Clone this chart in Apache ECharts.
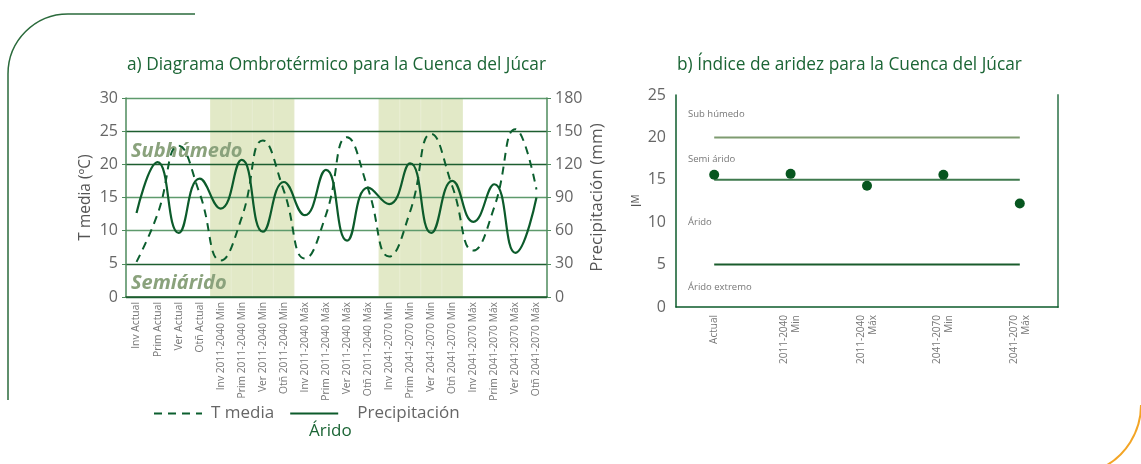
<!DOCTYPE html>
<html>
<head>
<meta charset="utf-8">
<script src="https://cdn.jsdelivr.net/npm/echarts@6/dist/echarts.min.js"></script>
<style>
html, body { margin: 0; padding: 0; background: #fff; }
#main { width: 1141px; height: 464px; }
</style>
</head>
<body>
<div id="main"></div>
<script>
// categorías del diagrama ombrotérmico
const estaciones = [
    'Inv Actual', 'Prim Actual', 'Ver Actual', 'Otñ Actual',
    'Inv 2011-2040 Min', 'Prim 2011-2040 Min', 'Ver 2011-2040 Min', 'Otñ 2011-2040 Min',
    'Inv 2011-2040 Máx', 'Prim 2011-2040 Máx', 'Ver 2011-2040 Máx', 'Otñ 2011-2040 Máx',
    'Inv 2041-2070 Min', 'Prim 2041-2070 Min', 'Ver 2041-2070 Min', 'Otñ 2041-2070 Min',
    'Inv 2041-2070 Máx', 'Prim 2041-2070 Máx', 'Ver 2041-2070 Máx', 'Otñ 2041-2070 Máx'
];
const tMedia = [5.3, 12.5, 22.8, 15.6, 5.5, 12.0, 23.6, 16.0, 5.8, 12.4, 24.1, 16.3, 6.1, 12.9, 24.6, 16.7, 7.0, 13.6, 25.3, 16.2];
const precipitacion = [76, 122, 58, 107, 80, 124, 59, 104, 74, 115, 51, 99, 84, 121, 58, 105, 68, 102, 40, 90];
// bandas sombreadas (escenarios Min)
const sombreado = [0, 0, 0, 0, 1, 1, 1, 1, 0, 0, 0, 0, 1, 1, 1, 1, 0, 0, 0, 0];

// índice de aridez
const periodos = ['Actual', '2011-2040\nMin', '2011-2040\nMáx', '2041-2070\nMin', '2041-2070\nMáx'];
const indiceIM = [15.6, 15.7, 14.3, 15.6, 12.2];
const limSubhumedo = [20, 20, 20, 20, 20];
const limSemiarido = [15, 15, 15, 15, 15];
const limArido = [5, 5, 5, 5, 5];

const FONT = 'Open Sans';
const VERDE = '#0c5b2b';
const GRIS = '#666';

let chart = echarts.init(document.getElementById('main'));

let options = {
    animation: false,
    textStyle: {fontFamily: FONT},
    title: [{
        text: 'a) Diagrama Ombrotérmico para la Cuenca del Júcar',
        left: 122,
        top: 52,
        textStyle: {fontSize: 17.3, fontWeight: 'normal', color: '#1b6535', fontFamily: FONT}
    }, {
        text: 'b) Índice de aridez para la Cuenca del Júcar',
        left: 672,
        top: 52,
        textStyle: {fontSize: 17.3, fontWeight: 'normal', color: '#1b6535', fontFamily: FONT}
    }],
    legend: {
        left: 148,
        top: 400,
        itemWidth: 48,
        itemHeight: 10,
        itemGap: 15,
        itemStyle: {opacity: 0},
        textStyle: {fontSize: 17, color: GRIS, fontFamily: FONT, padding: [0, 0, 0, 4]},
        data: [
            {name: 'T media'},
            {name: 'Precipitación', textStyle: {padding: [0, 0, 0, 14]}}
        ]
    },
    grid: [{
        left: 126, top: 98, width: 421, height: 199
    }, {
        left: 676, top: 95, width: 382, height: 212
    }],
    xAxis: [{
        gridIndex: 0,
        type: 'category',
        data: estaciones,
        boundaryGap: true,
        axisLine: {lineStyle: {color: '#1d5e30', width: 1.5}},
        axisTick: {show: false},
        axisLabel: {rotate: 90, fontSize: 10.3, color: '#777', margin: 5, interval: 0}
    }, {
        gridIndex: 1,
        type: 'category',
        data: periodos,
        boundaryGap: true,
        axisLine: {lineStyle: {color: VERDE, width: 1.5}},
        axisTick: {show: false},
        axisLabel: {rotate: 90, fontSize: 10, color: '#777', margin: 8, lineHeight: 12, interval: 0}
    }],
    yAxis: [{
        gridIndex: 0,
        type: 'value',
        min: 0, max: 30, interval: 5,
        name: 'T media (ºC)',
        nameLocation: 'middle',
        nameRotate: 90,
        nameGap: 32,
        nameTextStyle: {fontSize: 15.5, color: '#555'},
        axisLine: {show: true, lineStyle: {color: '#4e8b5d', width: 1.5}},
        axisTick: {show: true, length: 4, lineStyle: {color: '#4e8b5d'}},
        axisLabel: {fontSize: 16, color: GRIS, margin: 8},
        splitLine: {
            show: true,
            lineStyle: {
                width: 1.3,
                color: ['#1d5e30', '#1d5e30', '#5e9a6c', '#5e9a6c', '#1d5e30', '#1d5e30', '#5e9a6c']
            }
        }
    }, {
        gridIndex: 0,
        type: 'value',
        position: 'right',
        min: 0, max: 180, interval: 30,
        name: 'Precipitación (mm)',
        nameLocation: 'middle',
        nameRotate: 90,
        nameGap: 42,
        nameTextStyle: {fontSize: 17, color: '#555'},
        axisLine: {show: true, lineStyle: {color: '#4e8b5d', width: 1.5}},
        axisTick: {show: true, length: 4, lineStyle: {color: '#4e8b5d'}},
        axisLabel: {fontSize: 16, color: GRIS, margin: 8},
        splitLine: {show: false}
    }, {
        gridIndex: 0,
        type: 'value',
        min: 0, max: 1,
        show: false
    }, {
        gridIndex: 1,
        type: 'value',
        min: 0, max: 25, interval: 5,
        name: 'I{m|M}',
        nameLocation: 'middle',
        nameRotate: 90,
        nameGap: 23,
        nameTextStyle: {
            fontSize: 15, color: '#555',
            rich: {m: {fontSize: 10, color: '#555', fontFamily: FONT}}
        },
        axisLine: {show: true, lineStyle: {color: VERDE, width: 1.5}},
        axisTick: {show: false},
        axisLabel: {fontSize: 16, color: GRIS, margin: 10},
        splitLine: {show: false}
    }, {
        gridIndex: 1,
        type: 'value',
        position: 'right',
        min: 0, max: 25,
        axisLine: {show: true, lineStyle: {color: '#5f9474', width: 2}},
        axisTick: {show: false},
        axisLabel: {show: false},
        splitLine: {show: false}
    }],
    series: [{
        name: 'bandas',
        type: 'bar',
        xAxisIndex: 0,
        yAxisIndex: 2,
        z: -1,
        barCategoryGap: '0%',
        itemStyle: {color: '#e2e9c7', borderColor: '#e2e9c7', borderWidth: 1},
        silent: true,
        data: sombreado
    }, {
        name: 'T media',
        type: 'line',
        xAxisIndex: 0,
        yAxisIndex: 0,
        smooth: true,
        symbol: 'none',
        lineStyle: {color: '#0b5e2e', width: 2, type: [8, 6]},
        itemStyle: {color: '#0b5e2e'},
        data: tMedia
    }, {
        name: 'Precipitación',
        type: 'line',
        xAxisIndex: 0,
        yAxisIndex: 1,
        smooth: true,
        symbol: 'none',
        lineStyle: {color: VERDE, width: 2.2},
        itemStyle: {color: VERDE},
        data: precipitacion
    }, {
        name: 'Sub húmedo',
        type: 'line',
        xAxisIndex: 1,
        yAxisIndex: 3,
        symbol: 'none',
        lineStyle: {color: '#7e9b70', width: 2},
        data: limSubhumedo
    }, {
        name: 'Semi árido',
        type: 'line',
        xAxisIndex: 1,
        yAxisIndex: 3,
        symbol: 'none',
        lineStyle: {color: '#3f7a4e', width: 2},
        data: limSemiarido
    }, {
        name: 'Árido',
        type: 'line',
        xAxisIndex: 1,
        yAxisIndex: 3,
        symbol: 'none',
        lineStyle: {color: '#1a5c2c', width: 2},
        data: limArido
    }, {
        name: 'IM',
        type: 'scatter',
        xAxisIndex: 1,
        yAxisIndex: 3,
        symbolSize: 10,
        itemStyle: {color: '#07561f', opacity: 1},
        z: 5,
        data: indiceIM
    }],
    graphic: [
        // marco decorativo
        {type: 'line', shape: {x1: 195, y1: 14, x2: 68, y2: 14}, style: {stroke: '#2a6a3b', lineWidth: 1.5}},
        {type: 'arc', shape: {cx: 68, cy: 74, r: 60, startAngle: Math.PI, endAngle: Math.PI * 1.5, clockwise: true},
            style: {fill: null, stroke: '#2a6a3b', lineWidth: 1.5}},
        {type: 'line', shape: {x1: 8, y1: 74, x2: 8, y2: 400}, style: {stroke: '#2a6a3b', lineWidth: 1.5}},
        {type: 'arc', shape: {cx: 1071, cy: 405, r: 70, startAngle: 0, endAngle: 1.12, clockwise: true},
            style: {fill: null, stroke: '#f3a526', lineWidth: 2}},
        {type: 'text', left: 131, top: 141,
            style: {text: 'Subhúmedo', fill: '#8aa27c', font: 'italic bold 20px "Open Sans"'}},
        {type: 'text', left: 131, top: 273,
            style: {text: 'Semiárido', fill: '#8aa27c', font: 'italic bold 20px "Open Sans"'}},
        {type: 'text', left: 309, top: 423,
            style: {text: 'Árido', fill: '#1b6535', font: '17px "Open Sans"'}},
        {type: 'text', left: 688, top: 109,
            style: {text: 'Sub húmedo', fill: '#777', font: '9.5px "Open Sans"'}},
        {type: 'text', left: 688, top: 154,
            style: {text: 'Semi árido', fill: '#777', font: '9.5px "Open Sans"'}},
        {type: 'text', left: 688, top: 217,
            style: {text: 'Árido', fill: '#777', font: '9.5px "Open Sans"'}},
        {type: 'text', left: 688, top: 282,
            style: {text: 'Árido extremo', fill: '#777', font: '9.5px "Open Sans"'}}
    ]
};

chart.setOption(options);
</script>
</body>
</html>
